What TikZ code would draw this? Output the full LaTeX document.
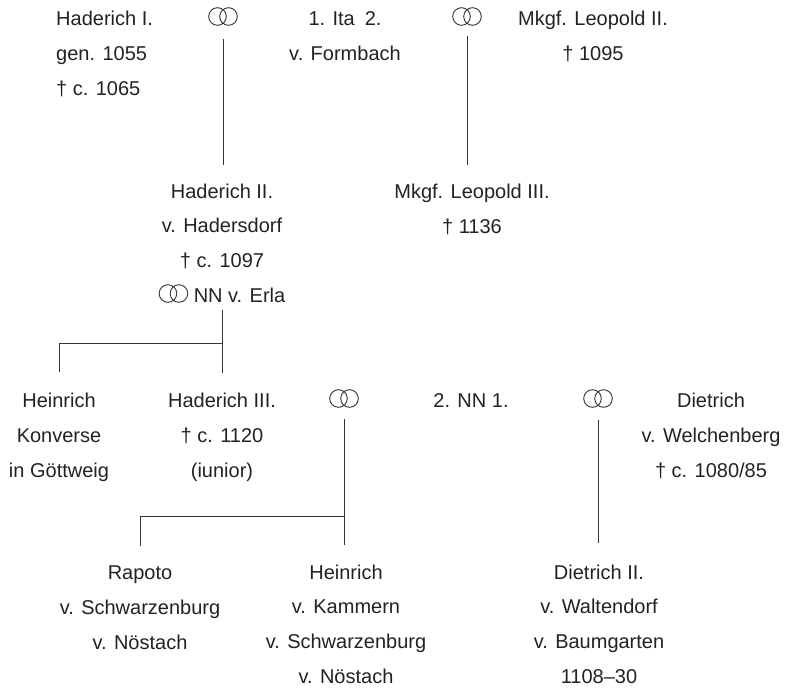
\documentclass[tikz,border=0pt]{standalone}
\usepackage{fontspec}
\setmainfont{Liberation Sans}
\definecolor{textc}{HTML}{222222}
\definecolor{linec}{HTML}{333333}
\newsavebox\marrbox
\newcommand\marr{\usebox\marrbox}
\begin{document}
\sbox\marrbox{\begin{pgfpicture}\pgfsetbaseline{0pt}\pgfsetlinewidth{0.9pt}\pgfsetstrokecolor{linec}%
\pgfpathcircle{\pgfpoint{9pt}{8.5pt}}{8.8pt}\pgfpathcircle{\pgfpoint{20pt}{8.5pt}}{8.8pt}\pgfusepath{stroke}\end{pgfpicture}}%
\begin{tikzpicture}[x=1pt,y=-1pt,
  person/.style={align=center, inner sep=0pt, anchor=base, text=textc,
    font=\fontsize{20}{34.6}\selectfont},
  ring/.style={inner sep=0pt, anchor=base},
  link/.style={draw=linec, line width=0.9pt}]
\useasboundingbox (0,0) rectangle (787,688);
% row 1 (anchors at the last line's baseline)
\node[person, anchor=base west, align=left] (h1) at (56,95) {Haderich I.\\gen. 1055\\† c. 1065};
\node[ring] (m1) at (223,25) {\marr};
\node[person] (ita) at (345,60) {1. Ita\enspace 2.\\v. Formbach};
\node[ring] (m2) at (467,25) {\marr};
\node[person] (l2) at (593,60) {Mkgf. Leopold II.\\† 1095};
% row 2
\node[person] (h2) at (222,302) {Haderich II.\\v. Hadersdorf\\† c. 1097\\\marr\ NN v. Erla};
\node[person] (l3) at (472,233) {Mkgf. Leopold III.\\† 1136};
% row 3
\node[person] (hk) at (59,477) {Heinrich\\Konverse\\in Göttweig};
\node[person] (h3) at (222,477) {Haderich III.\\† c. 1120\\(iunior)};
\node[ring] (m3) at (344,407) {\marr};
\node[person] (nn) at (471,407) {2. NN 1.};
\node[ring] (m4) at (598,407) {\marr};
\node[person] (d1) at (711,477) {Dietrich\\v. Welchenberg\\† c. 1080/85};
% row 4
\node[person] (rap) at (140,649) {Rapoto\\v. Schwarzenburg\\v. Nöstach};
\node[person] (hn) at (346,683) {Heinrich\\v. Kammern\\v. Schwarzenburg\\v. Nöstach};
\node[person] (d2) at (599,683) {Dietrich II.\\v. Waltendorf\\v. Baumgarten\\1108–30};
% connectors
\draw[link, shorten <=13pt, shorten >=19pt] (m1.south) -- (m1.south |- h2.north);
\draw[link, shorten <=10pt, shorten >=19pt] (m2.south) -- (m2.south |- l3.north);
\draw[link, shorten <=7pt, shorten >=20pt] (h2.south) -- (h2.south |- h3.north);
\coordinate (j1) at (222,343);
\draw[link] (j1) -| ([yshift=21pt]hk.north);
\draw[link, shorten <=11pt, shorten >=20pt] (m3.south) -- (m3.south |- hn.north);
\coordinate (j2) at (344,516);
\draw[link] (j2) -| ([yshift=20pt]rap.north);
\draw[link, shorten <=12pt, shorten >=22pt] (m4.south) -- (m4.south |- d2.north);
\end{tikzpicture}
\end{document}
